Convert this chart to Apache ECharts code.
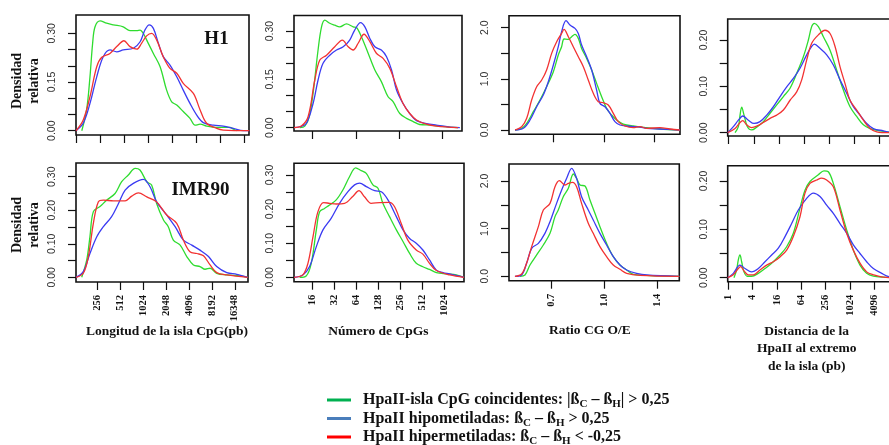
<!DOCTYPE html>
<html>
<head>
<meta charset="utf-8">
<script src="https://cdn.jsdelivr.net/npm/echarts@6/dist/echarts.min.js"></script>
<style>
html,body{margin:0;padding:0;background:#fff}
#chart{width:889px;height:445px}
</style>
</head>
<body>
<div id="chart"></div>
<script>
// x: log2 of the measured quantity, y: relative density

// Longitud de la isla CpG (log2 pb)
const h1LenGreen = [[7.24,0],[7.44,0.064],[7.58,0.166],[7.69,0.269],[7.79,0.320],[8.00,0.338],[8.27,0.331],[8.55,0.326],[8.96,0.320],[9.24,0.308],[9.52,0.308],[9.66,0.310],[9.79,0.300],[10.0,0.269],[10.21,0.238],[10.49,0.197],[10.76,0.125],[10.97,0.089],[11.18,0.079],[11.45,0.059],[11.73,0.038],[11.94,0.017],[12.15,0.020],[12.42,0.014],[12.84,0.010],[13.39,0.010],[13.53,0.005],[13.67,0]];
const h1LenBlue = [[7.00,0],[7.30,0.023],[7.58,0.084],[7.86,0.166],[8.13,0.228],[8.41,0.249],[8.69,0.243],[8.96,0.249],[9.38,0.254],[9.66,0.274],[9.86,0.310],[10.04,0.326],[10.21,0.315],[10.42,0.269],[10.62,0.228],[10.90,0.202],[11.18,0.166],[11.45,0.125],[11.73,0.084],[12.01,0.048],[12.28,0.025],[12.70,0.017],[13.11,0.014],[13.53,0.007],[13.94,0],[14.19,0]];
const h1LenRed = [[7.00,0],[7.30,0.033],[7.58,0.105],[7.86,0.197],[8.07,0.226],[8.41,0.238],[8.69,0.259],[8.99,0.277],[9.24,0.259],[9.52,0.251],[9.72,0.269],[9.93,0.292],[10.14,0.300],[10.35,0.279],[10.62,0.228],[10.90,0.192],[11.18,0.177],[11.45,0.146],[11.87,0.115],[12.15,0.064],[12.42,0.023],[12.84,0.007],[13.11,0.002],[14.19,0]];
const imrLenGreen = [[7.30,0],[7.52,0.052],[7.66,0.121],[7.81,0.196],[8.10,0.211],[8.39,0.230],[8.76,0.250],[9.05,0.285],[9.34,0.305],[9.64,0.325],[9.85,0.320],[10.15,0.285],[10.36,0.275],[10.58,0.220],[10.88,0.171],[11.09,0.151],[11.31,0.111],[11.61,0.096],[11.90,0.062],[12.19,0.037],[12.48,0.032],[12.70,0.024],[12.92,0.027],[13.21,0.012],[13.65,0.007],[14.23,0.004],[14.57,0]];
const imrLenBlue = [[7.05,0],[7.37,0.017],[7.66,0.071],[7.96,0.121],[8.25,0.151],[8.61,0.181],[8.91,0.220],[9.20,0.260],[9.56,0.280],[10.00,0.292],[10.29,0.270],[10.58,0.225],[11.02,0.186],[11.39,0.151],[11.75,0.111],[12.12,0.096],[12.48,0.081],[12.85,0.062],[13.21,0.032],[13.65,0.014],[14.09,0.009],[14.57,0]];
const imrLenRed = [[7.05,0],[7.37,0.012],[7.59,0.062],[7.81,0.161],[8.03,0.225],[8.25,0.230],[8.69,0.228],[9.20,0.228],[9.49,0.242],[9.78,0.252],[10.15,0.240],[10.58,0.225],[11.02,0.186],[11.46,0.161],[11.75,0.111],[12.04,0.076],[12.34,0.071],[12.63,0.064],[12.92,0.037],[13.21,0.014],[13.65,0.007],[14.57,0]];

// Número de CpGs (log2)
const h1CpgGreen = [[3.42,0],[3.65,0.005],[3.85,0.034],[4.03,0.107],[4.26,0.241],[4.42,0.313],[4.57,0.334],[4.80,0.324],[5.03,0.318],[5.26,0.313],[5.57,0.322],[5.88,0.313],[6.03,0.311],[6.26,0.282],[6.57,0.231],[6.88,0.179],[7.18,0.143],[7.49,0.096],[7.72,0.081],[8.03,0.044],[8.34,0.029],[8.65,0.019],[8.95,0.010],[9.42,0.008],[9.88,0.005],[10.34,0.002],[10.72,0]];
const h1CpgBlue = [[3.15,0],[3.42,0.003],[3.72,0.013],[4.03,0.075],[4.26,0.148],[4.49,0.200],[4.80,0.225],[5.11,0.241],[5.42,0.251],[5.72,0.272],[5.95,0.303],[6.22,0.326],[6.42,0.313],[6.65,0.277],[6.88,0.251],[7.18,0.241],[7.42,0.220],[7.65,0.179],[7.88,0.117],[8.18,0.075],[8.49,0.044],[8.80,0.022],[9.26,0.013],[9.72,0.008],[10.34,0.002],[10.8,0]];
const h1CpgRed = [[3.15,0],[3.49,0.005],[3.80,0.034],[4.11,0.148],[4.34,0.210],[4.65,0.225],[5.03,0.251],[5.38,0.272],[5.65,0.251],[5.88,0.241],[6.11,0.262],[6.38,0.290],[6.65,0.267],[6.95,0.231],[7.26,0.215],[7.57,0.184],[7.88,0.127],[8.18,0.075],[8.49,0.044],[8.80,0.024],[9.26,0.011],[9.72,0.005],[10.72,0]];
const imrCpgGreen = [[3.44,0],[3.74,0.004],[3.97,0.041],[4.20,0.139],[4.35,0.192],[4.57,0.202],[4.80,0.212],[5.10,0.227],[5.40,0.256],[5.70,0.295],[5.98,0.321],[6.23,0.313],[6.46,0.305],[6.76,0.271],[6.99,0.261],[7.21,0.217],[7.51,0.178],[7.82,0.139],[8.12,0.105],[8.42,0.070],[8.72,0.041],[9.02,0.031],[9.32,0.023],[9.63,0.014],[10.08,0.010],[10.53,0.007],[10.88,0]];
const imrCpgBlue = [[3.19,0],[3.59,0.007],[3.89,0.031],[4.20,0.090],[4.50,0.139],[4.87,0.173],[5.25,0.217],[5.63,0.251],[5.93,0.271],[6.16,0.276],[6.46,0.266],[6.84,0.254],[7.14,0.251],[7.44,0.227],[7.82,0.178],[8.12,0.139],[8.42,0.114],[8.72,0.100],[9.02,0.080],[9.32,0.051],[9.63,0.021],[9.93,0.014],[10.23,0.010],[10.88,0]];
const imrCpgRed = [[3.19,0],[3.59,0.007],[3.82,0.041],[4.05,0.119],[4.27,0.192],[4.53,0.219],[4.80,0.217],[5.10,0.215],[5.48,0.217],[5.86,0.238],[6.13,0.254],[6.38,0.236],[6.68,0.217],[7.06,0.219],[7.51,0.220],[7.74,0.207],[8.04,0.158],[8.34,0.109],[8.72,0.080],[9.02,0.068],[9.32,0.041],[9.63,0.020],[10.23,0.007],[10.88,0]];

// Ratio CG O/E (log2)
const h1RatioGreen = [[-0.884,0],[-0.818,0.033],[-0.768,0.130],[-0.702,0.358],[-0.636,0.586],[-0.570,0.847],[-0.503,1.140],[-0.454,1.466],[-0.421,1.629],[-0.397,1.779],[-0.354,1.772],[-0.321,1.824],[-0.288,1.870],[-0.255,1.792],[-0.222,1.596],[-0.172,1.401],[-0.122,1.173],[-0.073,0.912],[-0.023,0.652],[0.026,0.423],[0.076,0.293],[0.126,0.195],[0.192,0.117],[0.291,0.078],[0.424,0.046],[0.556,0.020],[0.755,0]];
const h1RatioBlue = [[-0.884,0],[-0.801,0.033],[-0.735,0.195],[-0.669,0.456],[-0.603,0.684],[-0.553,0.945],[-0.503,1.270],[-0.454,1.629],[-0.421,1.922],[-0.377,2.137],[-0.338,2.052],[-0.288,1.987],[-0.255,1.889],[-0.222,1.661],[-0.172,1.433],[-0.122,1.173],[-0.073,0.782],[-0.040,0.521],[0.010,0.456],[0.060,0.326],[0.109,0.163],[0.159,0.098],[0.225,0.078],[0.325,0.065],[0.424,0.033],[0.556,0.020],[0.755,0]];
const h1RatioRed = [[-0.884,0],[-0.818,0.065],[-0.768,0.228],[-0.719,0.586],[-0.669,0.847],[-0.619,0.977],[-0.570,1.173],[-0.520,1.498],[-0.470,1.726],[-0.421,1.889],[-0.397,1.968],[-0.354,1.824],[-0.305,1.629],[-0.255,1.433],[-0.205,1.238],[-0.156,0.977],[-0.106,0.717],[-0.056,0.554],[-0.007,0.534],[0.043,0.489],[0.093,0.326],[0.142,0.163],[0.209,0.078],[0.291,0.046],[0.358,0.065],[0.424,0.033],[0.556,0.046],[0.656,0.020],[0.755,0]];
const imrRatioGreen = [[-0.792,0],[-0.745,0.028],[-0.698,0.238],[-0.635,0.448],[-0.572,0.657],[-0.509,0.902],[-0.462,1.252],[-0.431,1.392],[-0.384,1.671],[-0.336,1.846],[-0.289,2.147],[-0.258,2.056],[-0.226,1.916],[-0.179,1.895],[-0.132,1.601],[-0.085,1.322],[-0.038,1.042],[0.025,0.692],[0.088,0.413],[0.151,0.238],[0.214,0.133],[0.277,0.042],[0.403,0.021],[0.528,0.007],[0.711,0]];
const imrRatioBlue = [[-0.840,0],[-0.777,0.028],[-0.730,0.273],[-0.682,0.587],[-0.619,0.692],[-0.557,0.902],[-0.509,1.147],[-0.447,1.531],[-0.399,1.811],[-0.352,2.056],[-0.305,2.266],[-0.258,2.056],[-0.211,1.671],[-0.148,1.392],[-0.101,1.182],[-0.038,0.902],[0.025,0.657],[0.088,0.413],[0.151,0.238],[0.214,0.133],[0.308,0.063],[0.403,0.028],[0.711,0]];
const imrRatioRed = [[-0.840,0],[-0.777,0.049],[-0.730,0.273],[-0.682,0.622],[-0.619,1.042],[-0.572,1.392],[-0.509,1.531],[-0.462,1.881],[-0.421,2.007],[-0.368,1.916],[-0.336,1.951],[-0.296,1.972],[-0.258,1.881],[-0.211,1.531],[-0.148,1.112],[-0.101,0.902],[-0.038,0.622],[0.025,0.413],[0.088,0.238],[0.151,0.147],[0.214,0.063],[0.340,0.021],[0.711,0]];

// Distancia de la HpaII al extremo de la isla (log2 pb)
const h1DistGreen = [[0.504,0],[0.770,0.013],[0.903,0.038],[1.035,0.055],[1.221,0.038],[1.487,0.013],[1.832,0.006],[2.230,0.012],[2.761,0.024],[3.292,0.042],[3.823,0.060],[4.354,0.078],[4.885,0.096],[5.415,0.128],[5.946,0.164],[6.345,0.200],[6.610,0.229],[6.822,0.236],[7.141,0.229],[7.539,0.207],[8.070,0.178],[8.601,0.135],[9.132,0.092],[9.663,0.056],[10.194,0.035],[10.725,0.017],[11.256,0.009],[12.052,0.004],[12.85,0.001],[14,0]];
const h1DistBlue = [[-0.08,0],[0.372,0.013],[0.770,0.027],[1.115,0.036],[1.566,0.027],[2.018,0.020],[2.495,0.024],[3.026,0.038],[3.557,0.056],[4.088,0.078],[4.619,0.099],[5.150,0.117],[5.681,0.139],[6.212,0.168],[6.610,0.186],[6.822,0.191],[7.274,0.182],[7.805,0.168],[8.336,0.146],[8.867,0.114],[9.397,0.085],[9.928,0.056],[10.459,0.038],[10.990,0.020],[11.521,0.009],[12.318,0.004],[12.85,0.001],[14,0]];
const h1DistRed = [[-0.08,0],[0.504,0.009],[0.903,0.022],[1.115,0.026],[1.433,0.017],[1.832,0.011],[2.230,0.014],[2.761,0.022],[3.292,0.031],[3.823,0.038],[4.354,0.049],[4.885,0.070],[5.415,0.088],[5.814,0.114],[6.212,0.157],[6.610,0.193],[7.141,0.211],[7.672,0.221],[8.070,0.214],[8.469,0.186],[8.867,0.142],[9.265,0.106],[9.663,0.070],[10.194,0.049],[10.725,0.027],[11.256,0.009],[11.787,0.002],[12.85,0]];
const imrDistGreen = [[0.466,0],[0.685,0.016],[0.822,0.037],[0.959,0.047],[1.096,0.033],[1.288,0.012],[1.562,0.003],[1.918,0.003],[2.466,0.009],[3.014,0.019],[3.562,0.030],[4.247,0.047],[4.795,0.064],[5.342,0.092],[5.890,0.144],[6.301,0.181],[6.712,0.199],[7.397,0.213],[7.863,0.221],[8.219,0.219],[8.630,0.195],[9.178,0.147],[9.726,0.099],[10.274,0.057],[10.822,0.026],[11.370,0.009],[11.918,0.003],[12.74,0.001],[14,0]];
const imrDistBlue = [[-0.05,0],[0.411,0.009],[0.959,0.026],[1.370,0.019],[1.918,0.012],[2.466,0.019],[3.014,0.033],[3.562,0.047],[4.110,0.061],[4.658,0.085],[5.205,0.112],[5.753,0.140],[6.438,0.164],[6.986,0.175],[7.534,0.168],[8.082,0.150],[8.630,0.133],[9.178,0.112],[9.726,0.092],[10.274,0.068],[10.822,0.050],[11.370,0.033],[11.918,0.019],[12.603,0.009],[13.2,0.002],[14,0]];
const imrDistRed = [[-0.05,0],[0.411,0.006],[0.822,0.019],[1.014,0.023],[1.288,0.014],[1.644,0.006],[2.055,0.006],[2.603,0.016],[3.151,0.026],[3.699,0.033],[4.247,0.043],[4.795,0.057],[5.342,0.085],[5.890,0.126],[6.301,0.175],[6.712,0.195],[7.260,0.202],[7.671,0.206],[8.082,0.202],[8.630,0.188],[9.178,0.140],[9.726,0.092],[10.274,0.057],[10.822,0.030],[11.370,0.012],[11.918,0.006],[12.74,0.001],[14,0]];

// Tick positions (log2) and their labels
const lenTicksTop = [7, 8, 9, 10, 11, 12, 13, 14];
const lenTicks = [8, 9, 10, 11, 12, 13, 14];
const lenLabels = ['256', '512', '1024', '2048', '4096', '8192', '16348'];
const cpgTicksTop = [4, 6, 8, 10];
const cpgTicks = [4, 5, 6, 7, 8, 9, 10];
const cpgLabels = ['16', '32', '64', '128', '256', '512', '1024'];
const ratioTicks = [-0.5, 0, 0.5];
const ratioLabels = ['0.7', '1.0', '1.4'];
const distTicks = [0, 2, 4, 6, 8, 10, 12, 14];
const distLabels = ['1', '4', '16', '64', '256', '1024', '4096', '16384'];

const densTicks = [0, 0.05, 0.10, 0.15, 0.20, 0.25, 0.30];
const densLabelsTopVals = [0, 0.15, 0.30];
const densLabelsTop = ['0.00', '0.15', '0.30'];
const densLabelsBotVals = [0, 0.10, 0.20, 0.30];
const densLabelsBot = ['0.00', '0.10', '0.20', '0.30'];
const ratioDensTicks = [0, 0.5, 1.0, 1.5, 2.0];
const ratioDensLabelVals = [0, 1.0, 2.0];
const ratioDensLabels = ['0.0', '1.0', '2.0'];
const distDensTicks = [0, 0.05, 0.10, 0.15, 0.20];
const distDensLabelVals = [0, 0.10, 0.20];
const distDensLabels = ['0.00', '0.10', '0.20'];

const seriesNames = [
  'HpaII-isla CpG coincidentes: |ßC – ßH| > 0,25',
  'HpaII hipometiladas: ßC – ßH > 0,25',
  'HpaII hipermetiladas: ßC – ßH < -0,25'
];
const lineColors = ['#2fdc2f', '#3b3bf2', '#f23232'];
const legendColors = ['#00b050', '#4a7ebb', '#ff0000'];

const SERIF = '"Liberation Serif", "Times New Roman", serif';
const SANS = '"Liberation Sans", Arial, sans-serif';

// panel frames (px) and visible axis ranges
const panels = [
  { box: [76, 15, 173, 120], x: [7.0, 14.178], y: [-0.0132, 0.3563], curves: [h1LenGreen, h1LenBlue, h1LenRed],
    xt: lenTicksTop, xl: null, yt: densTicks, ylv: densLabelsTopVals, yl: densLabelsTop },
  { box: [76, 163, 172, 119], x: [7.05, 14.58], y: [-0.014, 0.3409], curves: [imrLenGreen, imrLenBlue, imrLenRed],
    xt: lenTicks, xl: lenLabels, yt: densTicks, ylv: densLabelsBotVals, yl: densLabelsBot },
  { box: [294, 15.5, 168, 115.5], x: [3.15, 10.90], y: [-0.0102, 0.3481], curves: [h1CpgGreen, h1CpgBlue, h1CpgRed],
    xt: cpgTicksTop, xl: null, yt: densTicks, ylv: densLabelsTopVals, yl: densLabelsTop },
  { box: [294, 163.3, 170, 118.4], x: [3.19, 10.88], y: [-0.0129, 0.3343], curves: [imrCpgGreen, imrCpgBlue, imrCpgRed],
    xt: cpgTicks, xl: cpgLabels, yt: densTicks, ylv: densLabelsBotVals, yl: densLabelsBot },
  { box: [509, 15.7, 171, 118.6], x: [-0.944, 0.756], y: [-0.084, 2.235], curves: [h1RatioGreen, h1RatioBlue, h1RatioRed],
    xt: ratioTicks, xl: null, yt: ratioDensTicks, ylv: ratioDensLabelVals, yl: ratioDensLabels },
  { box: [509, 164, 170.3, 116.7], x: [-0.896, 0.711], y: [-0.0923, 2.357], curves: [imrRatioGreen, imrRatioBlue, imrRatioRed],
    xt: ratioTicks, xl: ratioLabels, yt: ratioDensTicks, ylv: ratioDensLabelVals, yl: ratioDensLabels },
  { box: [727.7, 19, 177.3, 117], x: [-0.08, 14.04], y: [-0.0071, 0.2453], curves: [h1DistGreen, h1DistBlue, h1DistRed],
    xt: distTicks, xl: null, yt: distDensTicks, ylv: distDensLabelVals, yl: distDensLabels },
  { box: [727.7, 165.7, 177.3, 116], x: [-0.05, 14.52], y: [-0.0083, 0.2316], curves: [imrDistGreen, imrDistBlue, imrDistRed],
    xt: distTicks, xl: distLabels, yt: distDensTicks, ylv: distDensLabelVals, yl: distDensLabels }
];

function lookup(vals, labels) {
  return function (v) {
    const i = vals.findIndex(t => Math.abs(t - v) < 1e-9);
    return i >= 0 ? labels[i] : '';
  };
}

const grids = [], xAxes = [], yAxes = [], series = [];
panels.forEach((p, i) => {
  grids.push({
    left: p.box[0], top: p.box[1], width: p.box[2], height: p.box[3],
    outerBoundsMode: 'none', containLabel: false,
    show: true, borderColor: '#111', borderWidth: 1.6, backgroundColor: '#fff'
  });
  xAxes.push({
    type: 'value', gridIndex: i, min: p.x[0], max: p.x[1], position: 'bottom',
    axisLine: { show: false, onZero: false }, splitLine: { show: false },
    axisTick: { show: true, length: 8, customValues: p.xt, lineStyle: { color: '#111', width: 1.2 } },
    axisLabel: p.xl ? {
      show: true, customValues: p.xt.filter(v => v >= p.x[0] && v <= p.x[1]), rotate: 90, margin: 13,
      fontFamily: SERIF, fontWeight: 'bold', fontSize: 10.5, color: '#111',
      formatter: lookup(p.xt, p.xl)
    } : { show: false }
  });
  yAxes.push({
    type: 'value', gridIndex: i, min: p.y[0], max: p.y[1], position: 'left',
    axisLine: { show: false, onZero: false }, splitLine: { show: false },
    axisTick: { show: true, length: 8, customValues: p.yt, lineStyle: { color: '#111', width: 1.2 } },
    axisLabel: {
      show: true, customValues: p.ylv, rotate: 90, margin: 18,
      fontFamily: SANS, fontSize: 10.5, color: '#333',
      formatter: lookup(p.ylv, p.yl)
    }
  });
  p.curves.forEach((c, k) => {
    series.push({
      type: 'line', name: seriesNames[k], xAxisIndex: i, yAxisIndex: i,
      data: c, showSymbol: false, smooth: 0.35, clip: true,
      lineStyle: { width: 1.3, color: lineColors[k] },
      itemStyle: { color: lineColors[k] },
      emphasis: { disabled: true }
    });
  });
});

const legendRich = {
  [seriesNames[0]]: '{sp|}{t|HpaII-isla CpG coincidentes: |ß}{s|C}{t| – ß}{s|H}{t|| > 0,25}',
  [seriesNames[1]]: '{sp|}{t|HpaII hipometiladas: ß}{s|C}{t| – ß}{s|H}{t| > 0,25}',
  [seriesNames[2]]: '{sp|}{t|HpaII hipermetiladas: ß}{s|C}{t| – ß}{s|H}{t| < -0,25}'
};

const textFont = size => 'bold ' + size + 'px ' + SERIF;

const option = {
  animation: false,
  backgroundColor: '#fff',
  grid: grids,
  xAxis: xAxes,
  yAxis: yAxes,
  series: series,
  legend: {
    orient: 'vertical', left: 322, top: 387, width: 400, height: 120,
    icon: 'rect', itemWidth: 24, itemHeight: 3, itemGap: 0.5,
    selectedMode: false,
    data: seriesNames.map((n, k) => ({ name: n, itemStyle: { color: legendColors[k] } })),
    formatter: n => legendRich[n],
    textStyle: {
      rich: {
        sp: { width: 7 },
        t: { fontFamily: SERIF, fontWeight: 'bold', fontSize: 16, lineHeight: 20, color: '#111' },
        s: { fontFamily: SERIF, fontWeight: 'bold', fontSize: 11, lineHeight: 12, verticalAlign: 'bottom', color: '#111' }
      }
    }
  },
  graphic: [
    { type: 'text', x: 216.5, y: 39, style: { text: 'H1', font: textFont(19), fill: '#111', textAlign: 'center', textVerticalAlign: 'middle' } },
    { type: 'text', x: 200.5, y: 190, style: { text: 'IMR90', font: textFont(19), fill: '#111', textAlign: 'center', textVerticalAlign: 'middle' } },
    { type: 'text', x: 26, y: 81, rotation: Math.PI / 2, style: { text: 'Densidad\nrelativa', font: textFont(14), lineHeight: 16.5, fill: '#111', textAlign: 'center', textVerticalAlign: 'middle' } },
    { type: 'text', x: 26, y: 225, rotation: Math.PI / 2, style: { text: 'Densidad\nrelativa', font: textFont(14), lineHeight: 16.5, fill: '#111', textAlign: 'center', textVerticalAlign: 'middle' } },
    { type: 'text', x: 167, y: 331.5, style: { text: 'Longitud de la isla CpG(pb)', font: textFont(13.5), fill: '#111', textAlign: 'center', textVerticalAlign: 'middle' } },
    { type: 'text', x: 378.3, y: 331.5, style: { text: 'Número de CpGs', font: textFont(13.5), fill: '#111', textAlign: 'center', textVerticalAlign: 'middle' } },
    { type: 'text', x: 590, y: 331, style: { text: 'Ratio CG O/E', font: textFont(13.5), fill: '#111', textAlign: 'center', textVerticalAlign: 'middle' } },
    { type: 'text', x: 806.7, y: 349, style: { text: 'Distancia de la\nHpaII al extremo\nde la isla (pb)', font: textFont(13.5), lineHeight: 17.2, fill: '#111', textAlign: 'center', textVerticalAlign: 'middle' } }
  ]
};

const chart = echarts.init(document.getElementById('chart'), null, { renderer: 'canvas' });
chart.setOption(option);
</script>
</body>
</html>
